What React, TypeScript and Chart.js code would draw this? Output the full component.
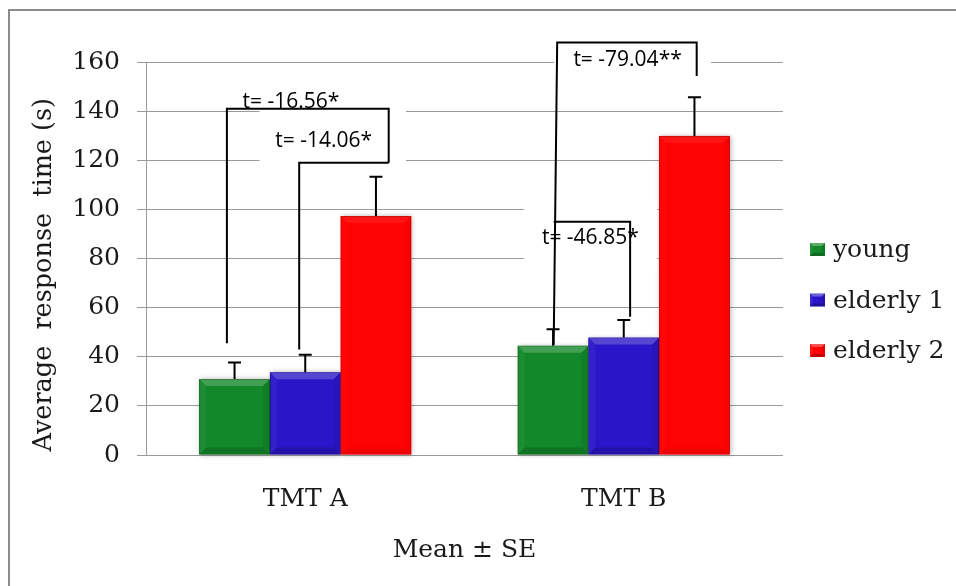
import React, { useEffect, useRef } from "react";
import { Chart, registerables } from "chart.js";

Chart.register(...registerables);

// ---------- data ----------
const categories = ["TMT A", "TMT B"];
const seriesNames = ["young", "elderly 1", "elderly 2"];
const youngMean = [30.9, 44.5];
const youngSE = [6.8, 6.7];
const elderly1Mean = [33.7, 47.8];
const elderly1SE = [7.1, 7.2];
const elderly2Mean = [97.3, 129.9];
const elderly2SE = [16.0, 15.7];
const yMin = 0;
const yMax = 160;
const yStep = 20;
const xAxisTitle = "Mean ± SE";
const yAxisTitle = "Average  response  time (s)";
const tLabels = ["t= -16.56*", "t= -14.06*", "t= -79.04**", "t= -46.85*"];

// bracket paths in (category units, value units)
const bracket1 = [[-0.246, 45.5], [-0.246, 141.0], [0.262, 141.0], [0.262, 119.0]];
const bracket2 = [[-0.019, 43.0], [-0.019, 119.0], [0.262, 119.0]];
const bracket3 = [[0.78, 44.8], [0.791, 167.9], [1.229, 167.9], [1.229, 154.3]];
const bracket4 = [[0.78, 95.0], [1.02, 95.0], [1.02, 56.3]];
// label anchors (center x, baseline y)
const tLabelPos = [[-0.045, 141.2], [0.058, 125.5], [1.012, 158.5], [0.895, 85.9]];
// white text boxes [x0, x1, yTop, yBottom]
const tBoxes = [[-0.144, 0.316, 142.5, 116.8], [0.782, 1.274, 169.1, 150.6], [0.687, 1.105, 103.8, 75.3]];

const means = [youngMean, elderly1Mean, elderly2Mean];
const ses = [youngSE, elderly1SE, elderly2SE];

const COLORS = ["#12882a", "#2a16c8", "#fe0303"];
const BORDERS = ["#0a5f18", "#1a0d8a", "#c40000"];
const BEVEL = [0.85, 0.85, 0.3];

const SERIF = "'DejaVu Serif', serif";
const SANS = "'Open Sans', sans-serif";

function poly(ctx: CanvasRenderingContext2D, pts: number[][], fill: string) {
  ctx.beginPath();
  ctx.moveTo(pts[0][0], pts[0][1]);
  for (let i = 1; i < pts.length; i++) ctx.lineTo(pts[i][0], pts[i][1]);
  ctx.closePath();
  ctx.fillStyle = fill;
  ctx.fill();
}

function bevel(ctx: CanvasRenderingContext2D, L: number, R: number, T: number, B: number, b: number, k: number) {
  poly(ctx, [[L, T], [R, T], [R - b, T + b], [L + b, T + b]], `rgba(255,255,255,${0.24 * k})`);
  poly(ctx, [[L, T], [L + b, T + b], [L + b, B - b], [L, B]], `rgba(255,255,255,${0.05 * k})`);
  poly(ctx, [[R, T], [R, B], [R - b, B - b], [R - b, T + b]], `rgba(0,0,0,${0.08 * k})`);
  poly(ctx, [[L, B], [L + b, B - b], [R - b, B - b], [R, B]], `rgba(0,0,0,${0.18 * k})`);
}

const decorPlugin = {
  id: "decor",
  beforeDatasetsDraw(chart: any) {
    const ctx: CanvasRenderingContext2D = chart.ctx;
    ctx.save();
    chart.data.datasets.forEach((ds: any, di: number) => {
      const meta = chart.getDatasetMeta(di);
      meta.data.forEach((el: any) => {
        const { x, y, base, width } = el.getProps(["x", "y", "base", "width"], true);
        ctx.shadowColor = "rgba(0,0,0,0.3)";
        ctx.shadowBlur = 5;
        ctx.shadowOffsetX = 1;
        ctx.shadowOffsetY = 0;
        ctx.fillStyle = ds.backgroundColor;
        ctx.fillRect(x - width / 2, y, width, base - y);
      });
    });
    ctx.restore();
  },
  afterDatasetsDraw(chart: any) {
    const ctx: CanvasRenderingContext2D = chart.ctx;
    const xs = chart.scales.x;
    const ys = chart.scales.y;
    const px = (v: number) => xs.getPixelForValue(v);
    const py = (v: number) => ys.getPixelForValue(v);
    ctx.save();
    // bevels and error bars
    chart.data.datasets.forEach((ds: any, di: number) => {
      const meta = chart.getDatasetMeta(di);
      meta.data.forEach((el: any, i: number) => {
        const { x, y, base, width } = el.getProps(["x", "y", "base", "width"], true);
        bevel(ctx, x - width / 2, x + width / 2, y, base, 7, BEVEL[di]);
        const top = py(ds.data[i] + ses[di][i]);
        ctx.strokeStyle = "#000";
        ctx.lineWidth = 2;
        ctx.beginPath();
        ctx.moveTo(x, y);
        ctx.lineTo(x, top);
        ctx.moveTo(x - 6.5, top);
        ctx.lineTo(x + 6.5, top);
        ctx.stroke();
      });
    });
    // white text boxes
    ctx.fillStyle = "#fff";
    tBoxes.forEach(([x0, x1, y0, y1]) => {
      ctx.fillRect(px(x0), py(y0), px(x1) - px(x0), py(y1) - py(y0));
    });
    // brackets
    ctx.strokeStyle = "#000";
    ctx.lineWidth = 2;
    ctx.lineJoin = "miter";
    [bracket1, bracket2, bracket3, bracket4].forEach((path) => {
      ctx.beginPath();
      path.forEach(([vx, vy], k) => {
        if (k === 0) ctx.moveTo(px(vx), py(vy));
        else ctx.lineTo(px(vx), py(vy));
      });
      ctx.stroke();
    });
    // labels
    ctx.fillStyle = "#000";
    ctx.font = `21px ${SANS}`;
    ctx.textAlign = "center";
    ctx.textBaseline = "alphabetic";
    tLabels.forEach((t, i) => {
      ctx.fillText(t, px(tLabelPos[i][0]), py(tLabelPos[i][1]));
    });
    ctx.restore();
  },
  afterDraw(chart: any) {
    const ctx: CanvasRenderingContext2D = chart.ctx;
    ctx.save();
    // outer frame (top and left edges)
    ctx.strokeStyle = "#8c8c8c";
    ctx.lineWidth = 2;
    ctx.beginPath();
    ctx.moveTo(9, 586);
    ctx.lineTo(9, 10);
    ctx.lineTo(956, 10);
    ctx.stroke();
    // legend
    const lx = 810;
    const baseY = 257;
    const gap = 50.5;
    ctx.font = `25px ${SERIF}`;
    ctx.textAlign = "left";
    ctx.textBaseline = "alphabetic";
    chart.data.datasets.forEach((ds: any, i: number) => {
      const by = baseY + i * gap;
      ctx.fillStyle = ds.backgroundColor;
      ctx.fillRect(lx, by - 14, 15, 13);
      bevel(ctx, lx, lx + 15, by - 14, by - 1, 3, 1.3);
      ctx.fillStyle = "#1a1a1a";
      ctx.fillText(ds.label, lx + 23, by);
    });
    ctx.restore();
  },
};

export default function App() {
  const ref = useRef<HTMLCanvasElement>(null);
  useEffect(() => {
    const canvas = ref.current;
    if (!canvas) return;
    const chart = new Chart(canvas, {
      type: "bar",
      data: {
        labels: categories,
        datasets: seriesNames.map((name, i) => ({
          label: name,
          data: means[i],
          backgroundColor: COLORS[i],
          borderColor: BORDERS[i],
          borderWidth: 1,
          categoryPercentage: 0.666,
          barPercentage: 1,
        })),
      },
      options: {
        responsive: false,
        animation: false,
        devicePixelRatio: 1,
        layout: { padding: { left: 0, right: 173, top: 62, bottom: 0 } },
        plugins: { legend: { display: false }, tooltip: { enabled: false } },
        scales: {
          x: {
            grid: { display: false, drawTicks: false },
            border: { display: false },
            ticks: { font: { family: SERIF, size: 25 }, color: "#1a1a1a", padding: 29 },
            title: {
              display: true,
              text: xAxisTitle,
              font: { family: SERIF, size: 25 },
              color: "#1a1a1a",
              padding: { top: 0, bottom: 21 },
            },
            afterFit: (s: any) => {
              s.height = 131;
            },
          },
          y: {
            min: yMin,
            max: yMax,
            ticks: { stepSize: yStep, font: { family: SERIF, size: 25 }, color: "#1a1a1a", padding: 17 },
            grid: { color: "#9a9a9a", lineWidth: 1, tickLength: 9 },
            border: { display: true, color: "#9a9a9a", width: 1 },
            title: {
              display: true,
              text: yAxisTitle + "    ",
              font: { family: SERIF, size: 25.5 },
              color: "#1a1a1a",
              padding: { top: 29, bottom: 0 },
            },
            afterFit: (s: any) => {
              s.width = 146;
            },
          },
        },
      },
      plugins: [decorPlugin],
    });
    return () => chart.destroy();
  }, []);
  return (
    <div style={{ position: "absolute", left: 0, top: 0, width: 956, height: 586, background: "#fff" }}>
      <canvas ref={ref} width={956} height={586} style={{ display: "block" }} />
    </div>
  );
}
